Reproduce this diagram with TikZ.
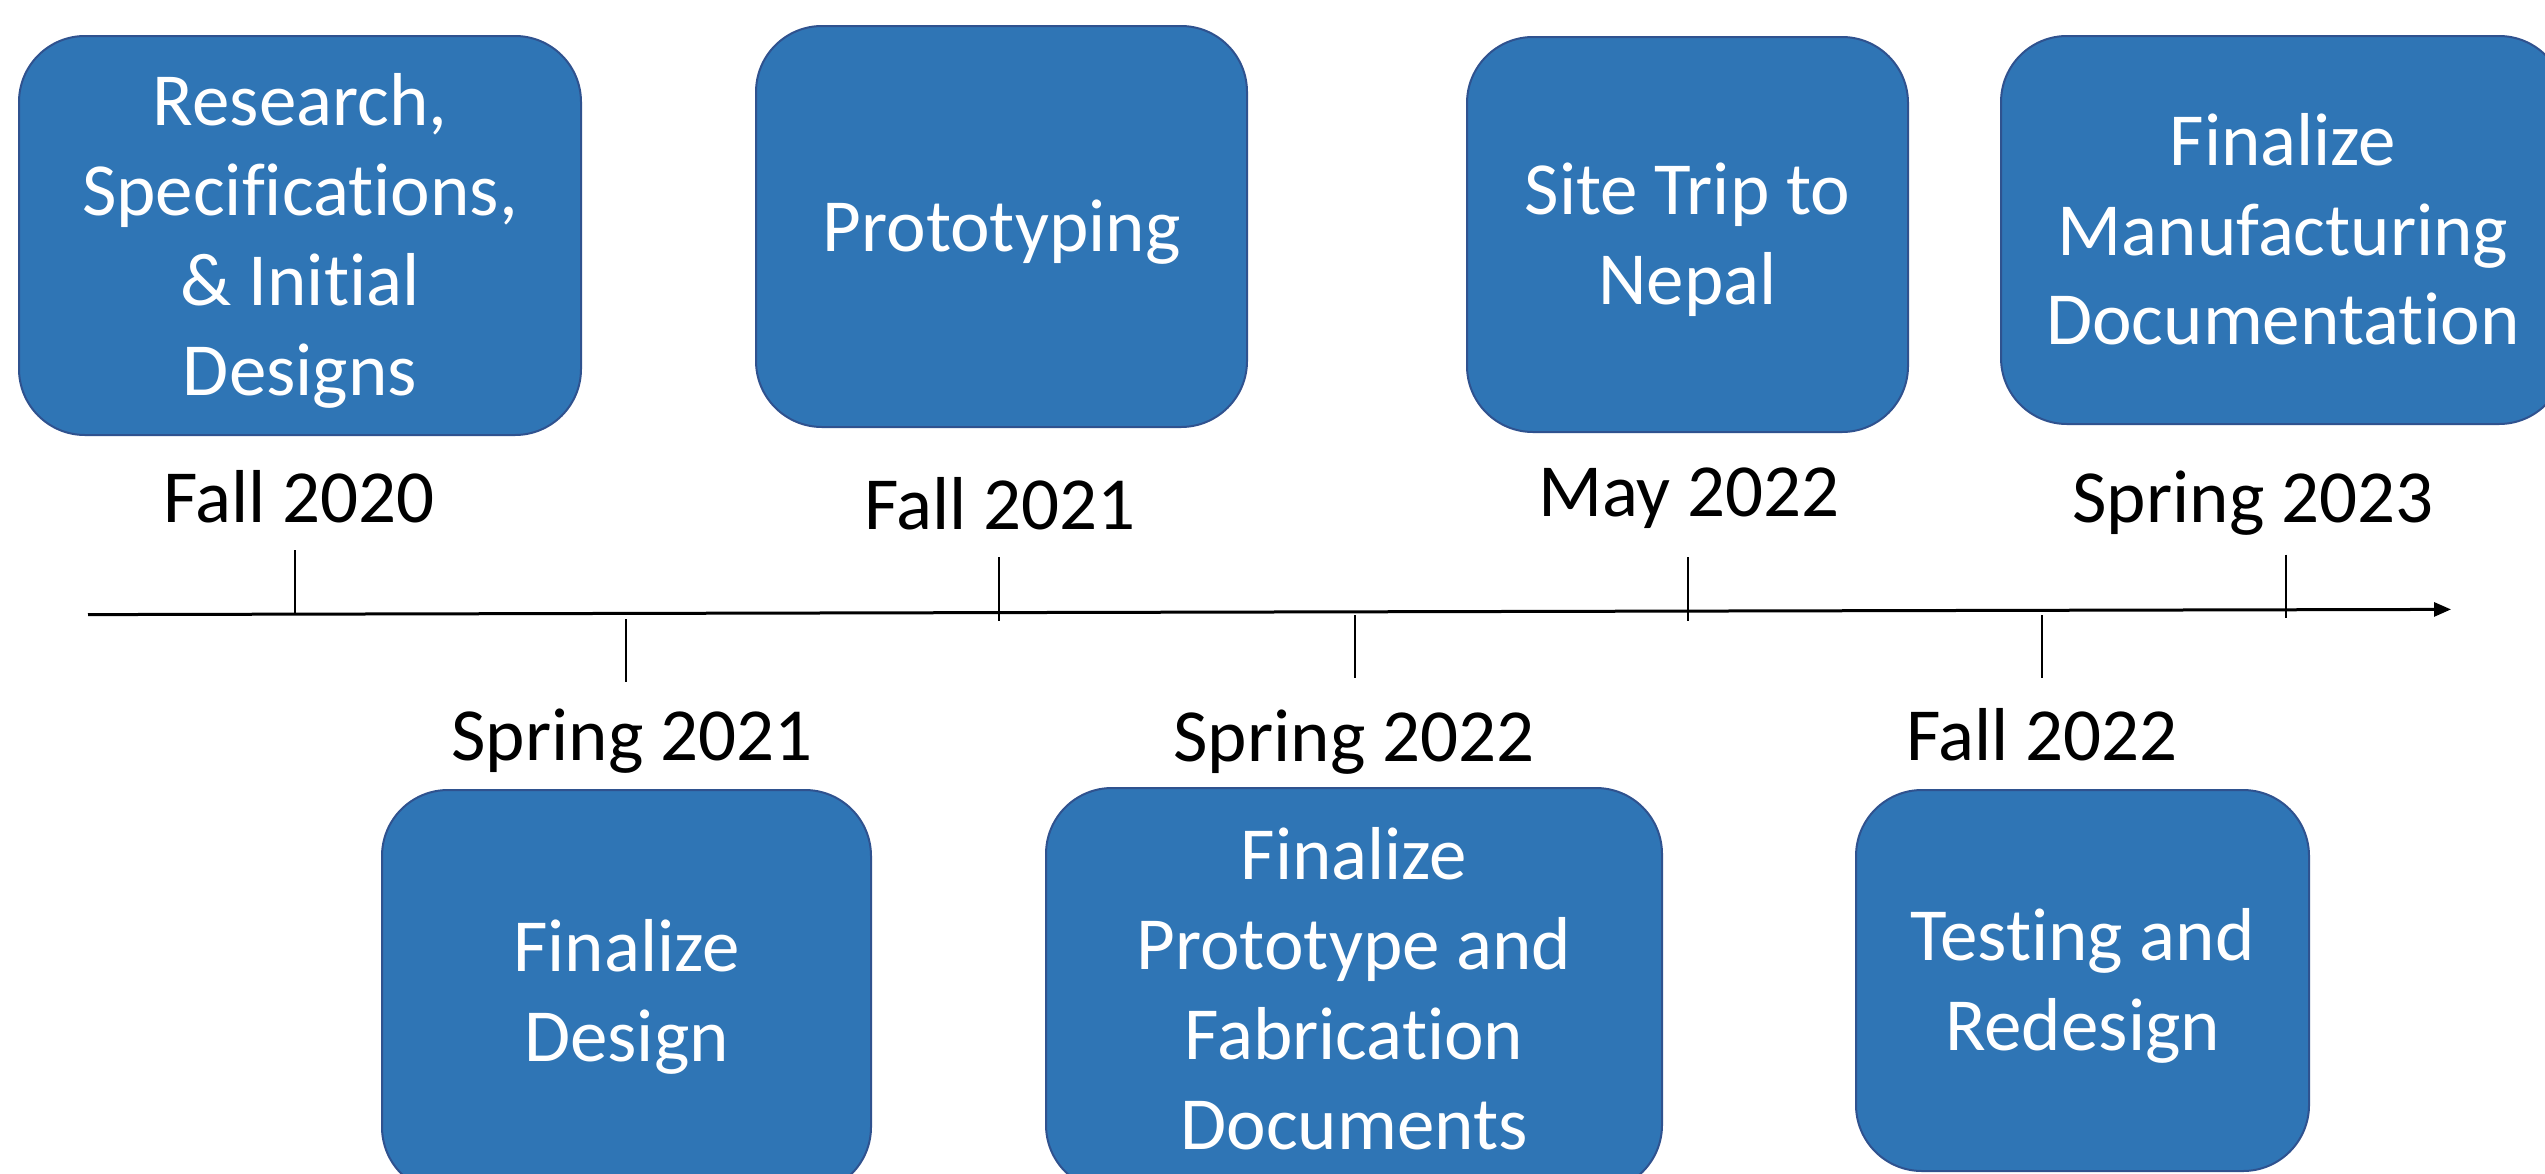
\documentclass[tikz,border=0pt]{standalone}
\usepackage{fontspec}
\setmainfont{Carlito}[RawFeature={-liga}]
\usetikzlibrary{arrows.meta}

\definecolor{boxfill}{RGB}{47,117,181}
\definecolor{boxline}{RGB}{47,82,143}

% stage text: 75pt with a fixed line pitch
\newcommand\stagefont{\fontsize{75pt}{89.7pt}\selectfont}
\newcommand\stagelines[1]{\begin{tabular}[t]{@{}c@{}}#1\end{tabular}}

\tikzset{
  stage/.style={draw=boxline, line width=2pt, fill=boxfill,
    rounded corners=66pt, text=white, font=\stagefont,
    inner sep=0pt, text height=60pt},
  oneline/.style={text depth=10pt},
  twolines/.style={text depth=99.7pt},
  threelines/.style={text depth=189.4pt},
  fourlines/.style={text depth=279.1pt},
  date/.style={font=\stagefont, text=black, anchor=base, inner sep=0pt},
  tick/.style={line width=2pt, black},
  axis/.style={line width=3pt, black, -{Triangle[length=17pt,width=14pt]}},
}

\begin{document}
\begin{tikzpicture}[x=1pt, y=-1pt]
  \useasboundingbox (0,0) rectangle (2545,1173);
  \fill[white] (0,0) rectangle (2545,1173);
  \clip (0,0) rectangle (2545,1173);

  % milestones above the axis
  \node[stage, fourlines, minimum width=562pt, minimum height=399pt] (b1) at (300,235.5)
    {\stagelines{Research,\\Specifications,\\\& Initial\\Designs}};
  \node[stage, oneline, minimum width=491pt, minimum height=401pt] (b2) at (1001.5,226.5)
    {\stagelines{Prototyping}};
  \node[stage, twolines, minimum width=441pt, minimum height=395pt] (b3) at (1687.5,234.5)
    {\stagelines{Site Trip to\\Nepal}};
  \node[stage, threelines, minimum width=564pt, minimum height=388pt] (b4) at (2283,230)
    {\stagelines{Finalize\\Manufacturing\\Documentation}};

  % milestones below the axis
  \node[stage, twolines, minimum width=489pt, minimum height=403pt] (b5) at (626.5,991.5)
    {\stagelines{Finalize\\Design}};
  \node[stage, fourlines, minimum width=616pt, minimum height=403pt] (b6) at (1354,989.5)
    {\stagelines{Finalize\\Prototype and\\Fabrication\\Documents}};
  \node[stage, twolines, minimum width=453pt, minimum height=381pt] (b7) at (2082.5,980.5)
    {\stagelines{Testing and\\Redesign}};

  % dates
  \node[date] (d1) at (299,522) {Fall 2020};
  \node[date] (d2) at (632,760) {Spring 2021};
  \node[date] (d3) at (1000,529) {Fall 2021};
  \node[date] (d4) at (1354,761) {Spring 2022};
  \node[date] (d5) at (1689,516) {May 2022};
  \node[date] (d6) at (2042,760) {Fall 2022};
  \node[date] (d7) at (2253,522) {Spring 2023};

  % time axis
  \coordinate (axstart) at (88,614.6);
  \coordinate (axend) at (2451,609.4);
  \draw[axis] (axstart) -- (axend);

  % tick marks
  \coordinate (k1a) at (294.5,550);  \coordinate (k1b) at (294.5,614);
  \coordinate (k2a) at (625.7,619);  \coordinate (k2b) at (625.7,682);
  \coordinate (k3a) at (998.7,557);  \coordinate (k3b) at (998.7,621);
  \coordinate (k4a) at (1354.6,615); \coordinate (k4b) at (1354.6,678);
  \coordinate (k5a) at (1688,557);   \coordinate (k5b) at (1688,621);
  \coordinate (k6a) at (2041.6,615); \coordinate (k6b) at (2041.6,678);
  \coordinate (k7a) at (2286,554.5); \coordinate (k7b) at (2286,618);
  \foreach \k in {1,...,7} \draw[tick] (k\k a) -- (k\k b);
\end{tikzpicture}
\end{document}
